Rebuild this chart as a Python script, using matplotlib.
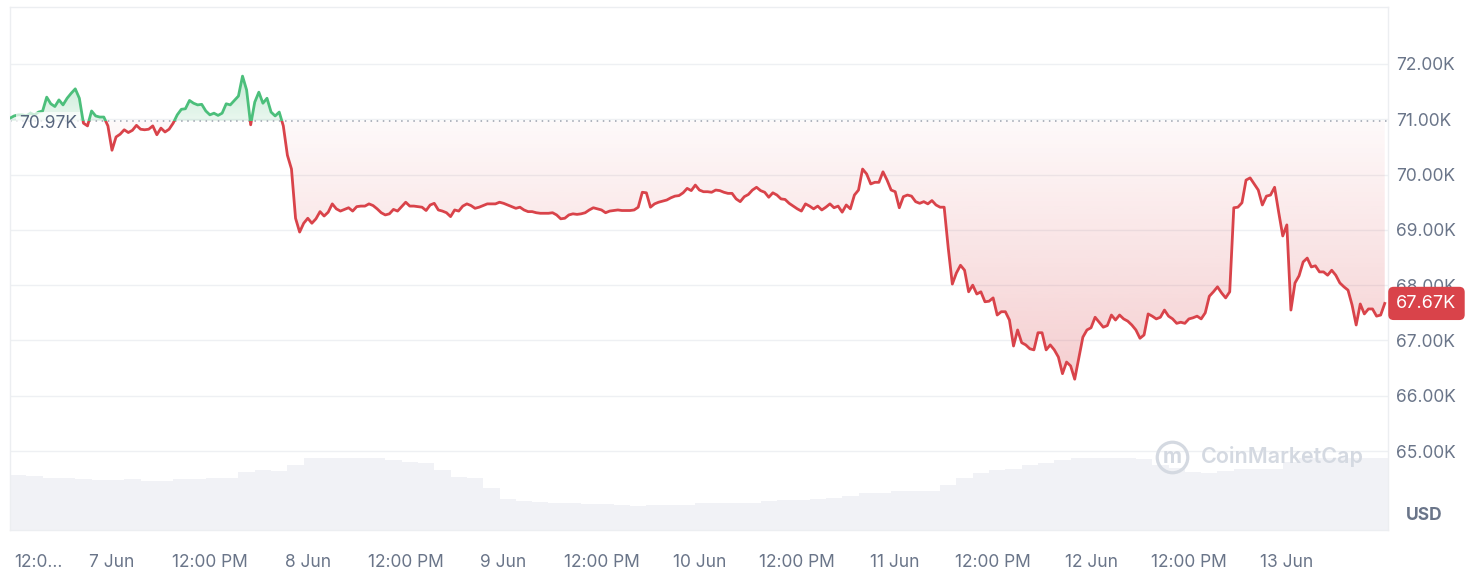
import numpy as np
import matplotlib
matplotlib.use("Agg")
import matplotlib.pyplot as plt
import matplotlib.transforms as mtransforms
from matplotlib.colors import to_rgb
from matplotlib.patches import PathPatch, Rectangle
from matplotlib.path import Path

plt.rcParams["font.family"] = ["Inter", "DejaVu Sans"]

# hours counted from 6 Jun 00:00; one price every 30 min
START_HOUR = 11.5
STEP_HOURS = 0.5
PRICE_K = [
    71.02, 71.06, 71.08, 71.08, 71.06, 71.11, 71.08, 71.13, 71.15, 71.40,
    71.28, 71.23, 71.35, 71.26, 71.38, 71.47, 71.55, 71.38, 70.93, 70.88,
    71.15, 71.06, 71.04, 71.04, 70.88, 70.44, 70.68, 70.73, 70.81, 70.76,
    70.80, 70.89, 70.82, 70.81, 70.82, 70.88, 70.72, 70.84, 70.77, 70.82,
    70.93, 71.08, 71.18, 71.19, 71.34, 71.29, 71.26, 71.27, 71.15, 71.08,
    71.11, 71.07, 71.11, 71.28, 71.26, 71.34, 71.42, 71.78, 71.53, 70.90,
    71.31, 71.49, 71.29, 71.38, 71.13, 71.06, 71.13, 70.88, 70.35, 70.10,
    69.21, 68.96, 69.12, 69.21, 69.12, 69.20, 69.33, 69.25, 69.32, 69.47,
    69.38, 69.34, 69.37, 69.40, 69.34, 69.42, 69.43, 69.43, 69.47, 69.44,
    69.38, 69.31, 69.27, 69.29, 69.37, 69.34, 69.42, 69.50, 69.43, 69.43,
    69.42, 69.41, 69.35, 69.45, 69.48, 69.36, 69.34, 69.31, 69.24, 69.36,
    69.34, 69.43, 69.47, 69.44, 69.39, 69.41, 69.44, 69.47, 69.47, 69.47,
    69.50, 69.48, 69.45, 69.42, 69.39, 69.41, 69.36, 69.33, 69.33, 69.31,
    69.30, 69.30, 69.30, 69.31, 69.27, 69.20, 69.21, 69.27, 69.29, 69.28,
    69.29, 69.31, 69.36, 69.40, 69.38, 69.36, 69.31, 69.34, 69.35, 69.36,
    69.35, 69.35, 69.35, 69.36, 69.41, 69.68, 69.67, 69.41, 69.47, 69.50,
    69.52, 69.54, 69.58, 69.61, 69.62, 69.67, 69.75, 69.71, 69.81, 69.72,
    69.69, 69.69, 69.68, 69.72, 69.71, 69.68, 69.66, 69.66, 69.56, 69.51,
    69.60, 69.64, 69.72, 69.77, 69.71, 69.68, 69.59, 69.67, 69.63, 69.56,
    69.55, 69.48, 69.43, 69.38, 69.34, 69.47, 69.43, 69.38, 69.43, 69.36,
    69.41, 69.47, 69.40, 69.43, 69.32, 69.45, 69.38, 69.63, 69.72, 70.10,
    70.01, 69.83, 69.86, 69.86, 70.05, 69.90, 69.72, 69.69, 69.40, 69.60,
    69.63, 69.61, 69.51, 69.48, 69.51, 69.47, 69.53, 69.45, 69.41, 69.41,
    68.67, 68.02, 68.22, 68.36, 68.27, 67.88, 68.00, 67.84, 67.88, 67.70,
    67.71, 67.77, 67.46, 67.52, 67.52, 67.37, 66.90, 67.19, 66.96, 66.92,
    66.85, 66.83, 67.14, 67.14, 66.83, 66.92, 66.83, 66.70, 66.40, 66.61,
    66.54, 66.30, 66.68, 67.06, 67.19, 67.23, 67.42, 67.33, 67.24, 67.27,
    67.46, 67.37, 67.46, 67.39, 67.35, 67.28, 67.19, 67.04, 67.10, 67.48,
    67.44, 67.39, 67.42, 67.55, 67.44, 67.39, 67.31, 67.33, 67.31, 67.39,
    67.41, 67.44, 67.39, 67.50, 67.80, 67.88, 67.97, 67.86, 67.77, 67.88,
    69.40, 69.41, 69.49, 69.90, 69.94, 69.83, 69.72, 69.45, 69.61, 69.63,
    69.77, 69.32, 68.89, 69.09, 67.55, 68.04, 68.17, 68.42, 68.49, 68.33,
    68.35, 68.24, 68.24, 68.18, 68.27, 68.18, 68.04, 67.97, 67.91, 67.64,
    67.28, 67.66, 67.48, 67.57, 67.57, 67.44, 67.46, 67.67,
]
OPEN_PRICE_K = 70.97
LAST_PRICE_K = 67.67

# 24h volume (billion USD), one step every 2 hours
VOL_START_HOUR = 11.5
VOL_STEP_HOURS = 2.0
VOLUME_B = [
    27.5, 27.0, 26.2, 25.8, 25.5, 25.0, 25.0, 25.4, 24.7, 24.7,
    25.3, 25.5, 26.0, 26.2, 29.0, 29.8, 29.5, 32.5, 36.2, 36.2,
    36.2, 36.2, 35.8, 35.0, 34.0, 33.7, 30.0, 26.5, 26.0, 21.0,
    15.5, 14.5, 14.0, 13.4, 13.4, 13.0, 12.9, 12.5, 12.0, 12.3,
    12.5, 12.5, 13.5, 13.7, 13.7, 13.7, 14.3, 15.0, 15.0, 15.5,
    16.2, 17.0, 18.4, 18.5, 19.5, 19.7, 19.7, 22.5, 26.0, 28.4,
    29.8, 30.5, 32.5, 33.4, 35.0, 35.8, 36.2, 36.2, 36.2, 35.5,
    32.5, 31.0, 29.0, 28.4, 29.5, 30.4, 30.4, 30.4, 34.0, 35.9,
    35.9, 35.9, 35.9, 35.9, 35.9,
]

X_TICK_HOURS = [12, 24, 36, 48, 60, 72, 84, 96, 108, 120, 132, 144, 156, 168]
X_TICK_LABELS = ["12:0...", "7 Jun", "12:00 PM", "8 Jun", "12:00 PM", "9 Jun",
                 "12:00 PM", "10 Jun", "12:00 PM", "11 Jun", "12:00 PM",
                 "12 Jun", "12:00 PM", "13 Jun"]
Y_TICKS_K = [65, 66, 67, 68, 69, 70, 71, 72]

GREEN = "#4cbf7b"
RED = "#d9434a"
GRID = "#eef0f3"
TEXT = "#6a7589"
VOL_COLOR = "#f1f2f6"


def gradient_fill(ax, x, y, base, where, color, a_base, a_far, far, xlim):
    coll = ax.fill_between(x, y, base, where=where, interpolate=True,
                           facecolor="none", edgecolor="none")
    paths = coll.get_paths()
    if not paths:
        return
    patch = PathPatch(Path.make_compound_path(*paths), facecolor="none",
                      edgecolor="none", transform=ax.transData)
    ax.add_patch(patch)
    lo, hi = sorted([base, far])
    vals = np.linspace(lo, hi, 256)
    img = np.zeros((256, 1, 4))
    img[..., :3] = to_rgb(color)
    img[:, 0, 3] = a_base + (a_far - a_base) * np.abs(vals - base) / abs(far - base)
    im = ax.imshow(img, extent=[xlim[0], xlim[1], lo, hi], origin="lower",
                   aspect="auto", zorder=1, interpolation="bilinear")
    im.set_clip_path(patch)


hours = START_HOUR + STEP_HOURS * np.arange(len(PRICE_K))
price = np.array(PRICE_K)
vol_edges = VOL_START_HOUR + VOL_STEP_HOURS * np.arange(len(VOLUME_B) + 1)

XLIM = (11.5, 180.4)
YLIM = (63.573, 73.03)

fig = plt.figure(figsize=(14.7, 5.88), dpi=100)
rect = [10 / 1470, 58 / 588, 1378 / 1470, 523 / 588]
axv = fig.add_axes(rect)
ax = fig.add_axes(rect)
ax.patch.set_visible(False)

# volume underlay
axv.stairs(VOLUME_B, vol_edges, fill=True, color=VOL_COLOR, lw=0)
axv.set_xlim(*XLIM)
axv.set_ylim(0, 261.5)
axv.set_xticks([])
axv.set_yticks([])
for s in axv.spines.values():
    s.set_visible(False)

# price fills and line
gradient_fill(ax, hours, price, OPEN_PRICE_K, price >= OPEN_PRICE_K, GREEN,
              0.12, 0.32, price.max(), XLIM)
gradient_fill(ax, hours, price, OPEN_PRICE_K, price <= OPEN_PRICE_K, RED,
              0.03, 0.26, price.min(), XLIM)

ax.axhline(OPEN_PRICE_K, color="#9aa1ad", lw=1.1, ls=(0, (1, 3)), zorder=2)

up = Rectangle((XLIM[0], OPEN_PRICE_K), XLIM[1] - XLIM[0], 10, transform=ax.transData)
down = Rectangle((XLIM[0], OPEN_PRICE_K - 10), XLIM[1] - XLIM[0], 10, transform=ax.transData)
lg, = ax.plot(hours, price, color=GREEN, lw=2, zorder=4, solid_joinstyle="round")
lg.set_clip_path(up)
lr, = ax.plot(hours, price, color=RED, lw=2, zorder=4, solid_joinstyle="round")
lr.set_clip_path(down)

ax.set_xlim(*XLIM)
ax.set_ylim(*YLIM)

# axes styling
ax.set_axisbelow(True)
ax.grid(axis="y", color=GRID, lw=1)
for s in ax.spines.values():
    s.set_color("#eceef1")
    s.set_linewidth(1)
ax.yaxis.tick_right()
ax.set_yticks(Y_TICKS_K, labels=[f"{v:.2f}K" for v in Y_TICKS_K])
ax.tick_params(axis="y", length=0, pad=6, labelsize=12.5, labelcolor=TEXT)
ax.set_xticks(X_TICK_HOURS, labels=X_TICK_LABELS)
ax.tick_params(axis="x", length=0, pad=17, labelsize=12.5, labelcolor=TEXT)
ax.get_xticklabels()[0].set_ha("left")

blend = mtransforms.blended_transform_factory(ax.transAxes, ax.transData)

# open price label
ax.text(0.0065, OPEN_PRICE_K - 0.04, f"{OPEN_PRICE_K:.2f}K", transform=blend,
        ha="left", va="center", fontsize=12.5, color="#58667e", zorder=5,
        bbox=dict(boxstyle="square,pad=0.15", fc="white", ec="none", alpha=0.7))

# last price badge
ax.annotate(f"{LAST_PRICE_K:.2f}K", xy=(1.0, LAST_PRICE_K), xycoords=blend,
            xytext=(6, 0), textcoords="offset points", ha="left", va="center",
            fontsize=13, color="white", zorder=6, annotation_clip=False,
            bbox=dict(boxstyle="round,pad=0.45,rounding_size=0.3", fc=RED, ec="none"))

# watermark
ax.plot([0.8433], [0.1396], transform=ax.transAxes, marker="o", ms=22,
        mfc="none", mec="#d4d9e1", mew=2.3, zorder=2, clip_on=False)
ax.text(0.8433, 0.1396, "m", transform=ax.transAxes, ha="center", va="center",
        fontsize=15, fontweight="bold", color="#d4d9e1", zorder=2)
ax.text(0.8643, 0.1396, "CoinMarketCap", transform=ax.transAxes, ha="left",
        va="center", fontsize=15.5, fontweight="semibold", color="#d4d9e1", zorder=2)

fig.text(1424 / 1470, 1 - 516 / 588, "USD", ha="center", va="center",
         fontsize=12.5, fontweight="bold", color=TEXT)

fig.savefig("out.png", dpi=100)
